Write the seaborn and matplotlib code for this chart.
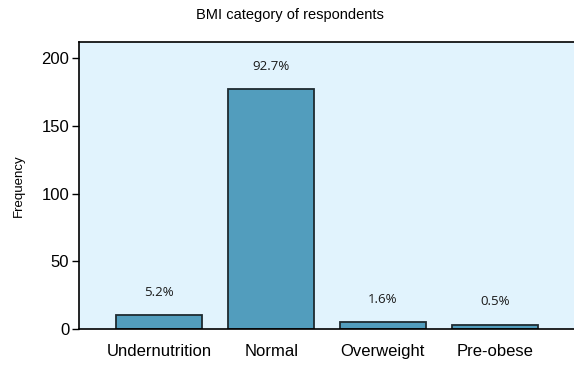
import matplotlib
matplotlib.use("Agg")
import matplotlib.pyplot as plt
import seaborn as sns
import pandas as pd

categories = ["Undernutrition", "Normal", "Overweight", "Pre-obese"]
frequency = [10, 177, 5, 3]
percent_labels = ["5.2%", "92.7%", "1.6%", "0.5%"]
y_ticks = [0, 50, 100, 150, 200]

sns.set_theme(style="ticks")
plt.rcParams["font.family"] = ["Liberation Sans", "DejaVu Sans"]
plt.rcParams["text.color"] = "black"
plt.rcParams["axes.labelcolor"] = "black"
plt.rcParams["xtick.color"] = "black"
plt.rcParams["ytick.color"] = "black"

df = pd.DataFrame({"category": categories, "frequency": frequency})

fig = plt.figure(figsize=(5.74, 3.65), dpi=100)
ax = fig.add_axes([0.1376, 0.0986, 0.8624, 0.7864])
ax.set_facecolor("#e1f3fd")

sns.barplot(data=df, x="category", y="frequency", order=categories,
            color="#529dbd", saturation=1, width=0.77,
            edgecolor="#1e2a30", linewidth=1.3, ax=ax)

for i, (v, lab) in enumerate(zip(frequency, percent_labels)):
    ax.annotate(lab, (i, v), xytext=(0, 12), textcoords="offset points",
                ha="center", va="bottom", fontsize=9.5, family=["Open Sans", "DejaVu Sans"],
                color="#1a1a1a")

ax.set_xlim(-0.72, 3.71)
ax.set_ylim(0, 212)
ax.set_yticks(y_ticks)
ax.set_xlabel("")
ax.set_ylabel("Frequency", fontsize=9.5, labelpad=12)
ax.tick_params(axis="x", length=0, labelsize=12, pad=11)
ax.tick_params(axis="y", length=5, width=1, labelsize=12, pad=2)
for s in ["left", "bottom", "top"]:
    ax.spines[s].set_color("black")
    ax.spines[s].set_linewidth(1.2)
ax.spines["right"].set_visible(False)

fig.text(0.505, 0.958, "BMI category of respondents", ha="center", va="center", fontsize=10.5)

fig.savefig("out.png", dpi=100)
